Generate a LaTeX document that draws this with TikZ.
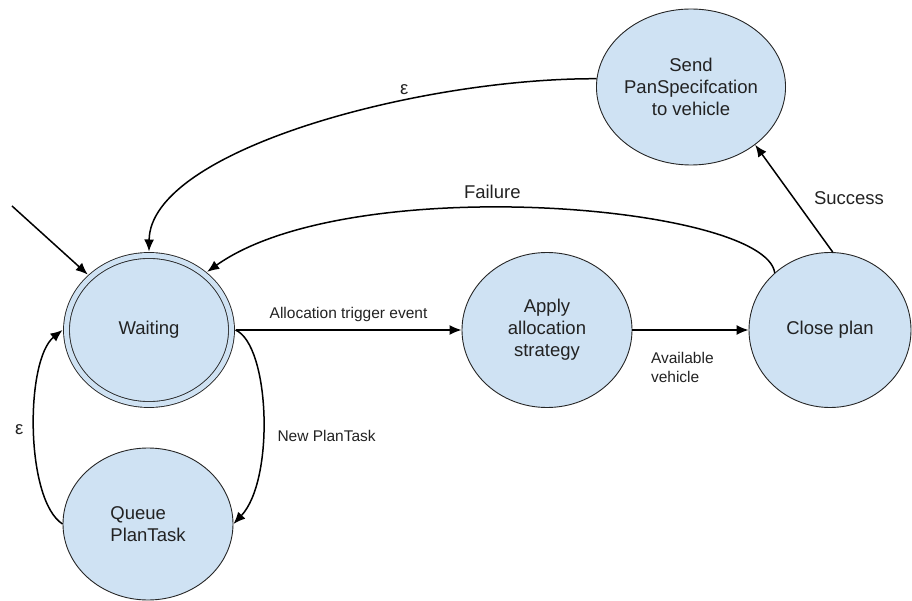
\documentclass[tikz,border=0pt]{standalone}
\usepackage{fontspec}
\setmainfont{Liberation Sans}
\usetikzlibrary{shapes.geometric,arrows.meta}

\definecolor{stateblue}{HTML}{CFE2F3}
\definecolor{inkgray}{HTML}{222222}

\tikzset{
	state/.style={ellipse,draw=black!85,fill=stateblue,line width=0.9pt,inner sep=0pt,
		text=inkgray,font=\fontsize{18.5}{22}\selectfont,align=center},
	trans/.style={line width=1.5pt,-{Latex[length=12pt,width=10pt]}},
	edgetext/.style={text=inkgray,font=\fontsize{15.5}{19}\selectfont},
	bigtext/.style={text=inkgray,font=\fontsize{18.5}{22}\selectfont},
}

\begin{document}
\begin{tikzpicture}[x=1pt,y=-1pt]
		\useasboundingbox (0,0) rectangle (912,601);
		% states
		\node[state,double=stateblue,double distance=5pt,outer sep=4pt,minimum width=165pt,minimum height=149pt] (waiting) at (149,330) {Waiting};
		\node[state,align=left,minimum width=170pt,minimum height=152pt] (queue) at (148,524) {Queue\\PlanTask};
		\node[state,minimum width=170pt,minimum height=155pt] (apply) at (547,330) {Apply\\allocation\\strategy};
		\node[state,minimum width=162pt,minimum height=155pt] (close) at (830,330) {Close plan};
		\node[state,minimum width=170pt,minimum height=156pt] (send) at (691,87) {Send\\PanSpecifcation\\to vehicle};
		\coordinate (init) at (12,206);
		% transitions
		\draw[trans] (init) -- (waiting);
		\draw[trans] (waiting.east) -- node[edgetext,above,yshift=4pt] {Allocation trigger event} (apply.west);
		\draw[trans] (apply.east) -- node[edgetext,pos=0.125,anchor=north west,align=left,yshift=-18pt] {Available\\vehicle} (close.west);
		\draw[trans] (close.88) -- node[bigtext,right,xshift=16pt] {Success} (send.-42);
		\draw[trans] (send.175) .. controls (420,78) and (150,150) .. (waiting.north) node[bigtext,pos=0.33,above,yshift=1pt] {ε};
		\draw[trans] (close.134) .. controls (765,205) and (350,170) .. (waiting.45) node[bigtext,pos=0.565,above,yshift=5pt] {Failure};
		\draw[trans] (waiting.east) .. controls (270,345) and (275,480) .. (queue.east) node[edgetext,pos=0.58,right,xshift=11pt] {New PlanTask};
		\draw[trans] (queue.west) .. controls (25,500) and (25,360) .. (waiting.west) node[bigtext,midway,left,xshift=-7pt] {ε};
\end{tikzpicture}
\end{document}
